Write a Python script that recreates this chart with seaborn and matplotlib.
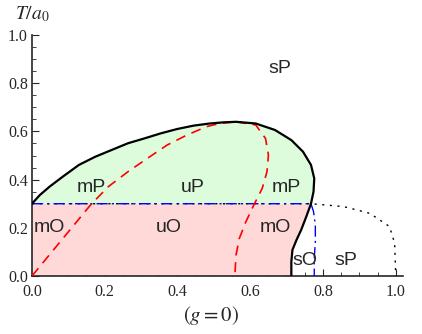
import numpy as np
import pandas as pd
import seaborn as sns
import matplotlib.pyplot as plt
from matplotlib.ticker import MultipleLocator

# Phase boundaries (x, T/a0)
upper_x = [0.0, 0.0216, 0.0485, 0.0844, 0.129, 0.174, 0.219, 0.264, 0.309, 0.354, 0.399, 0.444,
           0.489, 0.529, 0.561, 0.615, 0.668, 0.713, 0.745, 0.767, 0.776, 0.774, 0.767]
upper_y = [0.30, 0.336, 0.371, 0.412, 0.461, 0.495, 0.523, 0.551, 0.571, 0.592, 0.610, 0.624,
           0.633, 0.638, 0.640, 0.633, 0.606, 0.564, 0.516, 0.461, 0.405, 0.350, 0.30]
lower_x = [0.767, 0.754, 0.740, 0.727, 0.716, 0.713, 0.713]
lower_y = [0.30, 0.246, 0.191, 0.149, 0.108, 0.059, 0.0]

red1_x = [0.0, 0.161, 0.210, 0.264, 0.318, 0.372, 0.426, 0.480, 0.516, 0.561]
red1_y = [0.0, 0.295, 0.371, 0.433, 0.489, 0.544, 0.585, 0.620, 0.633, 0.640]
red2_x = [0.561, 0.615, 0.642, 0.650, 0.646, 0.633, 0.610, 0.588, 0.570, 0.561, 0.558, 0.558]
red2_y = [0.640, 0.627, 0.571, 0.502, 0.433, 0.364, 0.295, 0.225, 0.156, 0.087, 0.012, 0.0]

blue_x = [0.0, 0.767, 0.774, 0.779, 0.779, 0.776, 0.776]
blue_y = [0.30, 0.30, 0.267, 0.212, 0.142, 0.073, 0.0]

dot_x = [0.0, 0.767, 0.857, 0.929, 0.983, 0.997, 1.0]
dot_y = [0.30, 0.30, 0.288, 0.26, 0.205, 0.136, 0.0]

labels = ["mP", "uP", "mP", "mO", "uO", "mO", "sO", "sP", "sP"]
label_x = [0.164, 0.442, 0.70, 0.049, 0.377, 0.668, 0.749, 0.862, 0.682]
label_y = [0.369, 0.369, 0.369, 0.20, 0.20, 0.20, 0.066, 0.066, 0.863]

sns.set_style("ticks")
plt.rcParams['mathtext.fontset'] = 'stix'

fig = plt.figure(figsize=(4.22, 3.34), dpi=100)
ax = fig.add_axes([0.0758, 0.1737, 0.8792, 0.7213])

# shaded regions
ax.fill(upper_x, upper_y, color='#dcfcdc', lw=0, zorder=1)
pink_x = [0.0, 0.0] + lower_x
pink_y = [0.0, 0.30] + lower_y
ax.fill(pink_x, pink_y, color='#ffd8d8', lw=0, zorder=1)

def draw(xs, ys, **kw):
    df = pd.DataFrame({'x': xs, 'y': ys})
    sns.lineplot(data=df, x='x', y='y', sort=False, estimator=None, ax=ax, **kw)

draw(dot_x, dot_y, color='black', lw=1.0, linestyle=(0, (1.5, 4)), zorder=2)
draw(blue_x, blue_y, color='blue', lw=1.0, linestyle=(0, (8, 3, 1.5, 3)), zorder=3)
draw(red1_x, red1_y, color='red', lw=1.2, linestyle=(0, (6, 4)), zorder=3)
draw(red2_x, red2_y, color='red', lw=1.2, linestyle=(0, (6, 4)), zorder=3)
draw(upper_x, upper_y, color='black', lw=1.6, zorder=4)
draw(lower_x, lower_y, color='black', lw=1.6, zorder=4)

for t, x, y in zip(labels, label_x, label_y):
    ax.text(x, y, t, fontsize=14, family='Liberation Sans', ha='center', va='center', zorder=5)

ax.set_xlim(0, 1.02)
ax.set_ylim(0, 1.0)
ax.set_xlabel('')
ax.set_ylabel('')
ax.xaxis.set_major_locator(MultipleLocator(0.2))
ax.xaxis.set_minor_locator(MultipleLocator(0.05))
ax.yaxis.set_major_locator(MultipleLocator(0.2))
ax.yaxis.set_minor_locator(MultipleLocator(0.05))
ax.xaxis.set_major_formatter(lambda v, p: f"{v:.1f}")
ax.yaxis.set_major_formatter(lambda v, p: f"{v:.1f}")
ax.tick_params(which='major', direction='in', length=5, width=0.8, labelsize=11.5)
ax.tick_params(which='minor', direction='in', length=3, width=0.6)
ax.tick_params(axis='x', which='major', pad=6)
ax.tick_params(axis='y', which='major', pad=3)
for lab in ax.get_xticklabels() + ax.get_yticklabels():
    lab.set_family('Liberation Serif')
sns.despine(ax=ax)
ax.spines['left'].set_linewidth(1.2)
ax.spines['bottom'].set_linewidth(1.2)

ax.text(0.0, 1.085, r'$T/a_0$', transform=ax.transAxes, fontsize=14, ha='center', va='center')
fig.text(0.5, 0.054, r'$(g=0)$', fontsize=15, ha='center', va='center')

fig.savefig('out.png', dpi=100)
